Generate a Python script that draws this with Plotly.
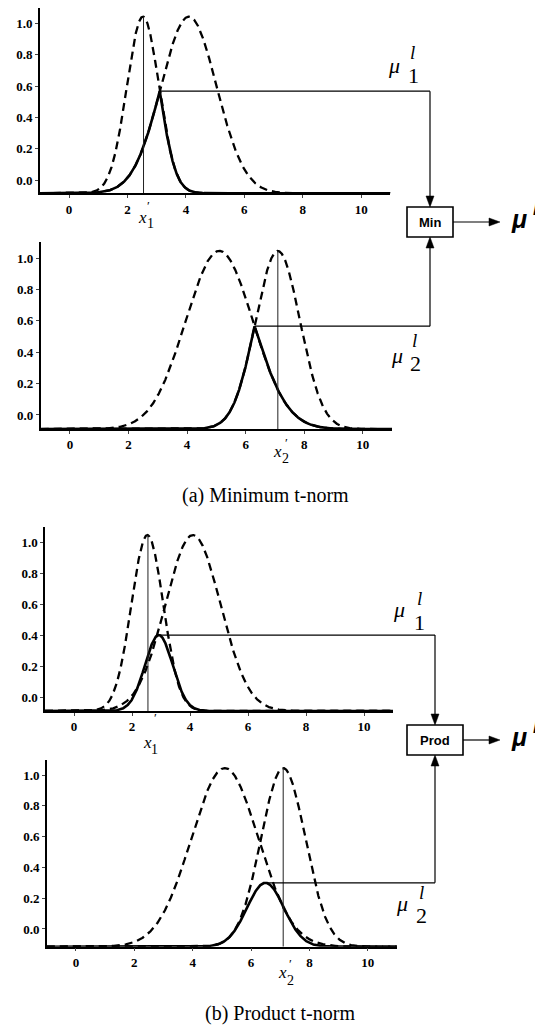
import numpy as np
import plotly.graph_objects as go

# page is 543x1035; the html body adds an 8px margin, so the figure is 8px smaller
PAGE_W, PAGE_H = 543, 1035
OFF = 8
W, H = PAGE_W - OFF, PAGE_H - OFF

# ---- values ----
x1_centers = [2.53, 4.10]     # dashed membership functions on x1 (narrow, wide)
x1_sigmas = [0.55, 0.95]
x2_centers = [5.10, 7.10]     # dashed membership functions on x2 (wide, narrow)
x2_sigmas = [1.15, 0.76]
x1_input = 2.55               # x1'
x2_input = 7.10               # x2'
mf_peak = 1.045
prod_peaks = [0.40, 0.30]     # product-curve peaks (b)
x_ticks = [0, 2, 4, 6, 8, 10]
y_ticks = [0.0, 0.2, 0.4, 0.6, 0.8, 1.0]
x_range = [-1, 11]
y_floor = [-0.085, -0.09, -0.09, -0.115]
y_top = 1.1
captions = ["(a) Minimum t-norm", "(b) Product t-norm"]
box_labels = ["Min", "Prod"]

# ---- layout geometry (page pixels) ----
panels_px = [(39.8, 390.4, 8.0, 193.3), (40.7, 392.0, 242.3, 429.1),
             (45.0, 393.0, 526.5, 711.0), (46.8, 397.0, 759.6, 946.7)]
turn_x = [430, 430, 435, 435]
boxes_px = [(407, 453, 207, 237), (407, 463, 725, 755)]
arrow_tip_x = 500

xs = np.linspace(x_range[0], x_range[1], 2401)


def gauss(c, s):
    return np.exp(-0.5 * ((xs - c) / s) ** 2)


def to_px(i, x, y):
    l, r, t, b = panels_px[i]
    px = l + (x - x_range[0]) / (x_range[1] - x_range[0]) * (r - l)
    py = b - (y - y_floor[i]) / (y_top - y_floor[i]) * (b - t)
    return px, py


def P(px, py):
    return (px - OFF) / W, 1 - (py - OFF) / H


fig = go.Figure()
dash_style = "8px,5px"
shapes = []
annotations = []
tick_font = dict(family="Liberation Serif", size=13, color="black", weight="bold")

for i in range(4):
    cen, sig = (x1_centers, x1_sigmas) if i in (0, 2) else (x2_centers, x2_sigmas)
    xin = x1_input if i in (0, 2) else x2_input
    fl = y_floor[i]
    g1 = gauss(cen[0], sig[0])
    g2 = gauss(cen[1], sig[1])
    d1 = fl + (mf_peak - fl) * g1
    d2 = fl + (mf_peak - fl) * g2
    if i in (0, 1):
        solid = np.minimum(d1, d2)
    else:
        pr = g1 * g2
        pr = pr / pr.max()
        solid = fl + (prod_peaks[i - 2] - fl) * pr
    ax = "" if i == 0 else str(i + 1)
    xa, ya = "x" + ax, "y" + ax
    for d in (d1, d2):
        fig.add_trace(go.Scatter(x=xs, y=d, mode="lines", xaxis=xa, yaxis=ya,
                                 line=dict(color="black", width=2.3, dash=dash_style),
                                 showlegend=False, hoverinfo="skip"))
    fig.add_trace(go.Scatter(x=xs, y=solid, mode="lines", xaxis=xa, yaxis=ya,
                             line=dict(color="black", width=2.6),
                             showlegend=False, hoverinfo="skip"))
    # vertical input line
    narrow = d1 if i in (0, 2) else d2
    vtop = float(np.interp(xin, xs, narrow))
    fig.add_trace(go.Scatter(x=[xin, xin], y=[fl, vtop], mode="lines", xaxis=xa, yaxis=ya,
                             line=dict(color="#222", width=1),
                             showlegend=False, hoverinfo="skip"))

    l, r, t, b = panels_px[i]
    dx0, dy1 = P(l, t)
    dx1, dy0 = P(r, b)
    fig.update_layout(**{
        ("xaxis" + ax): dict(domain=[dx0, dx1], range=x_range, anchor=ya,
                             tickvals=x_ticks, ticks="outside", ticklen=3, tickwidth=1,
                             showline=True, linecolor="black", linewidth=1.5,
                             showgrid=False, zeroline=False, fixedrange=True,
                             tickfont=tick_font),
        ("yaxis" + ax): dict(domain=[dy0, min(dy1, 1.0)], range=[fl, y_top], anchor=xa,
                             tickvals=y_ticks, tickformat=".1f", ticks="outside",
                             ticklen=3, tickwidth=1,
                             showline=True, linecolor="black", linewidth=1.5,
                             showgrid=False, zeroline=False, fixedrange=True,
                             tickfont=tick_font),
    })

    # connector from the firing level to the t-norm box
    k = int(np.argmax(solid))
    px0, py0 = to_px(i, xs[k], solid[k])
    tx = turn_x[i]
    bx0, bx1, by0, by1 = boxes_px[i // 2]
    if i in (0, 2):
        tip, sgn = by0, 1
    else:
        tip, sgn = by1, -1
    alen, hw = 11, 4
    for (a, bb) in [((px0, py0), (tx, py0)), ((tx, py0), (tx, tip - sgn * alen))]:
        xa0, ya0 = P(*a)
        xb0, yb0 = P(*bb)
        shapes.append(dict(type="line", xref="paper", yref="paper", x0=xa0, y0=ya0,
                           x1=xb0, y1=yb0, line=dict(color="black", width=1.2)))
    pts = [P(tx, tip), P(tx - hw, tip - sgn * alen), P(tx + hw, tip - sgn * alen)]
    path = "M {} {} L {} {} L {} {} Z".format(pts[0][0], pts[0][1], pts[1][0], pts[1][1],
                                              pts[2][0], pts[2][1])
    shapes.append(dict(type="path", xref="paper", yref="paper", path=path,
                       fillcolor="black", line=dict(color="black", width=0.5)))

# boxes, output arrows and labels
for j, (bx0, bx1, by0, by1) in enumerate(boxes_px):
    x0p, y0p = P(bx0, by0)
    x1p, y1p = P(bx1, by1)
    shapes.append(dict(type="rect", xref="paper", yref="paper", x0=x0p, y0=y1p,
                       x1=x1p, y1=y0p, line=dict(color="black", width=1.6),
                       fillcolor="white"))
    cy = (by0 + by1) / 2
    annotations.append(dict(text="<b>%s</b>" % box_labels[j], x=P((bx0 + bx1) / 2, 0)[0],
                            y=P(0, cy)[1], xref="paper", yref="paper", showarrow=False,
                            xanchor="center", yanchor="middle",
                            font=dict(family="Liberation Sans", size=13, color="black")))
    a0 = P(bx1, cy)
    a1 = P(arrow_tip_x - 11, cy)
    shapes.append(dict(type="line", xref="paper", yref="paper", x0=a0[0], y0=a0[1],
                       x1=a1[0], y1=a1[1], line=dict(color="black", width=1.2)))
    pts = [P(arrow_tip_x, cy), P(arrow_tip_x - 11, cy - 4), P(arrow_tip_x - 11, cy + 4)]
    path = "M {} {} L {} {} L {} {} Z".format(pts[0][0], pts[0][1], pts[1][0], pts[1][1],
                                              pts[2][0], pts[2][1])
    shapes.append(dict(type="path", xref="paper", yref="paper", path=path,
                       fillcolor="black", line=dict(color="black", width=0.5)))
    # mu^l output
    mx, my = P(519, cy - 3)
    annotations.append(dict(text="<b><i>μ</i></b>", x=mx, y=my, xref="paper", yref="paper",
                            showarrow=False, xanchor="center", yanchor="middle",
                            font=dict(family="Liberation Sans", size=25, color="black")))
    lx, ly = P(536, cy - 13)
    annotations.append(dict(text="<b><i>l</i></b>", x=lx, y=ly, xref="paper", yref="paper",
                            showarrow=False, xanchor="center", yanchor="middle",
                            borderpad=0,
                            font=dict(family="Liberation Sans", size=17, color="black")))


def label(txt, px, py, size, italic=False, family="Liberation Serif"):
    x, y = P(px, py)
    t = "<i>%s</i>" % txt if italic else txt
    annotations.append(dict(text=t, x=x, y=y, xref="paper", yref="paper", showarrow=False,
                            xanchor="center", yanchor="middle", borderpad=0,
                            font=dict(family=family, size=size, color="black")))


# mu_i^l labels
mu_pos = [((394, 66), (412, 52), (413, 76), "1"),
          ((397, 355), (414, 340), (415, 363), "2"),
          ((399, 609), (419, 598), (419, 622), "1"),
          ((402, 903), (421, 892), (421, 915), "2")]
for (m, lp, sp, s) in mu_pos:
    label("μ", m[0], m[1], 22, italic=True)
    label("l", lp[0], lp[1], 19, italic=True)
    label(s, sp[0], sp[1], 22)

# x' labels
xl_pos = [((143, 218), (150, 224), (148, 205), "1"),
          ((277, 451), (285, 459), (286, 443), "2"),
          ((147, 742), (154, 749), (155, 717), "1"),
          ((282, 972), (290, 980), (290, 963), "2")]
for (xp, sp, pp, s) in xl_pos:
    label("x", xp[0], xp[1], 17, italic=True)
    label(s, sp[0], sp[1], 14)
    label("′", pp[0], pp[1], 13)

# captions
label(captions[0], 265, 496, 20)
label(captions[1], 280, 1013, 20)

fig.update_layout(width=W, height=H, margin=dict(l=0, r=0, t=0, b=0),
                  paper_bgcolor="white", plot_bgcolor="white",
                  shapes=shapes, annotations=annotations, showlegend=False)

fig.write_html("out.html")
